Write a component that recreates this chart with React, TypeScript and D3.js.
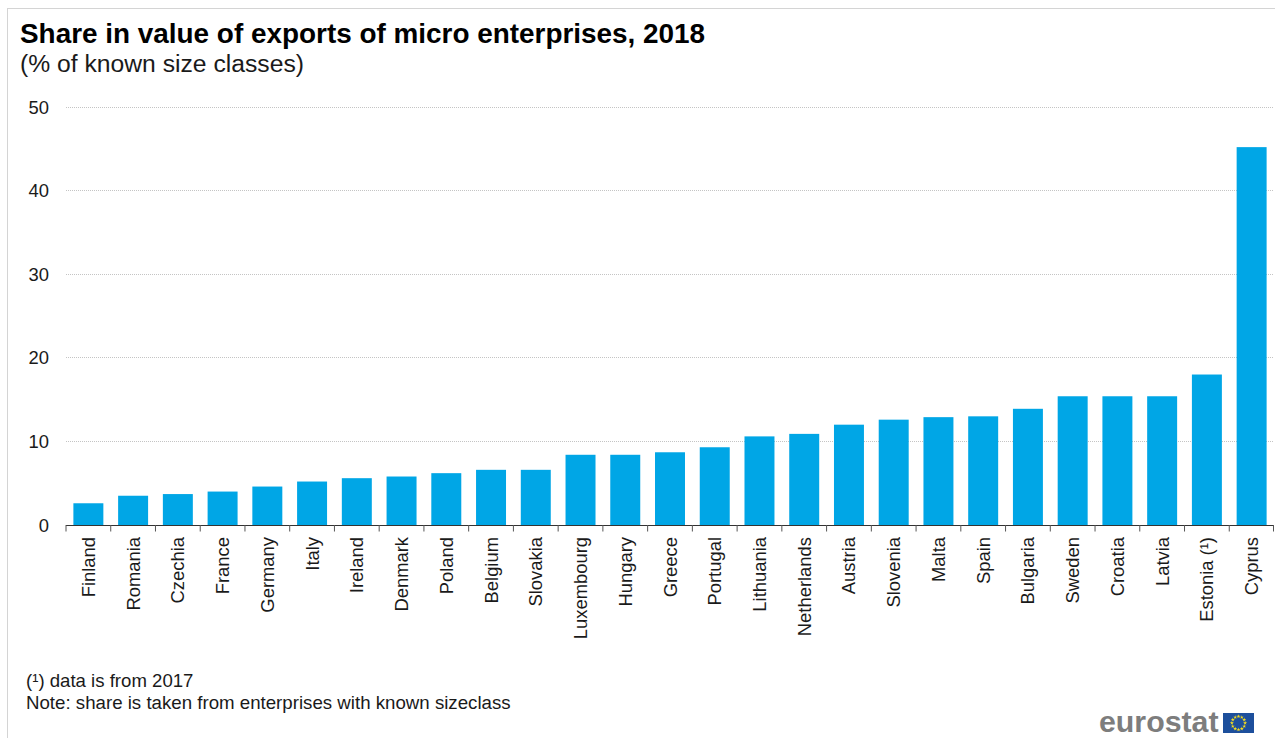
import React from "react";
import * as d3 from "d3";

const countries = ["Finland","Romania","Czechia","France","Germany","Italy","Ireland","Denmark","Poland","Belgium","Slovakia","Luxembourg","Hungary","Greece","Portugal","Lithuania","Netherlands","Austria","Slovenia","Malta","Spain","Bulgaria","Sweden","Croatia","Latvia","Estonia (¹)","Cyprus"];
const shares = [2.6,3.5,3.7,4.0,4.6,5.2,5.6,5.8,6.2,6.6,6.6,8.4,8.4,8.7,9.3,10.6,10.9,12.0,12.6,12.9,13.0,13.9,15.4,15.4,15.4,18.0,45.2];
const yTicks = [0,10,20,30,40,50];
const flagStars = d3.range(12);

const WIDTH = 1275;
const HEIGHT = 738;
const FONT = "'Liberation Sans', Arial, sans-serif";

export default function App() {
  const x = d3.scaleBand<string>().domain(countries).range([66, 1274]).paddingInner(0.33).paddingOuter(0.165);
  const y = d3.scaleLinear().domain([0, 50]).range([525, 107]);
  const star = d3.symbol(d3.symbolStar, 5)() as string;

  return (
    <svg width={WIDTH} height={HEIGHT} viewBox={`0 0 ${WIDTH} ${HEIGHT}`}
      style={{ position: "absolute", left: 0, top: 0, background: "#fff", fontFamily: FONT }}>
      {/* outer frame */}
      <line x1={7.5} x2={WIDTH} y1={8.5} y2={8.5} stroke="#d4d4d4" />
      <line x1={7.5} x2={7.5} y1={8} y2={HEIGHT} stroke="#d4d4d4" />

      <text x={20} y={43} fontSize={27.9} fontWeight={700} fill="#000">Share in value of exports of micro enterprises, 2018</text>
      <text x={20} y={72} fontSize={24.7} fill="#1a1a1a">(% of known size classes)</text>

      {/* gridlines and value axis */}
      {yTicks.filter((t) => t > 0).map((t) => (
        <line key={t} x1={66} x2={1274} y1={Math.floor(y(t)) + 0.5} y2={Math.floor(y(t)) + 0.5}
          stroke="#c4c4c4" strokeWidth={1} strokeDasharray="1 1" />
      ))}
      {yTicks.map((t) => (
        <text key={t} x={49} y={y(t) + 6.5} fontSize={18.4} textAnchor="end" fill="#1a1a1a">{t}</text>
      ))}

      {/* bars */}
      {countries.map((c, i) => (
        <rect key={c} x={x(c)} y={y(shares[i])} width={x.bandwidth()} height={y(0) - y(shares[i])} fill="#00a6e6" />
      ))}

      {/* category axis */}
      <line x1={66} x2={1274} y1={525.5} y2={525.5} stroke="#333" />
      {countries.map((c) => {
        const left = (x(c) as number) - (x.step() - x.bandwidth()) / 2;
        return <line key={c} x1={left} x2={left} y1={525} y2={531.5} stroke="#555" />;
      })}
      <line x1={1273.5} x2={1273.5} y1={525} y2={531.5} stroke="#555" />
      {countries.map((c) => {
        const cx = (x(c) as number) + x.bandwidth() / 2;
        return (
          <text key={c} transform={`translate(${cx + 6.5},537) rotate(-90)`} fontSize={18.4} textAnchor="end" fill="#1a1a1a">{c}</text>
        );
      })}

      {/* footnotes */}
      <text x={26} y={687} fontSize={18.6} fill="#1a1a1a">(¹) data is from 2017</text>
      <text x={26} y={709} fontSize={18.68} fill="#1a1a1a">Note: share is taken from enterprises with known sizeclass</text>

      {/* producer logo */}
      <text x={1099} y={732} fontSize={30.3} fontWeight={700} fill="#7d7d7d">eurostat</text>
      <rect x={1223} y={713} width={31} height={20} fill="#1d4f9c" />
      {flagStars.map((i) => {
        const a = (i / 12) * 2 * Math.PI;
        return <path key={i} d={star} transform={`translate(${1238.5 + 6.6 * Math.cos(a)},${723 + 6.6 * Math.sin(a)})`} fill="#f5dc1e" />;
      })}
    </svg>
  );
}
